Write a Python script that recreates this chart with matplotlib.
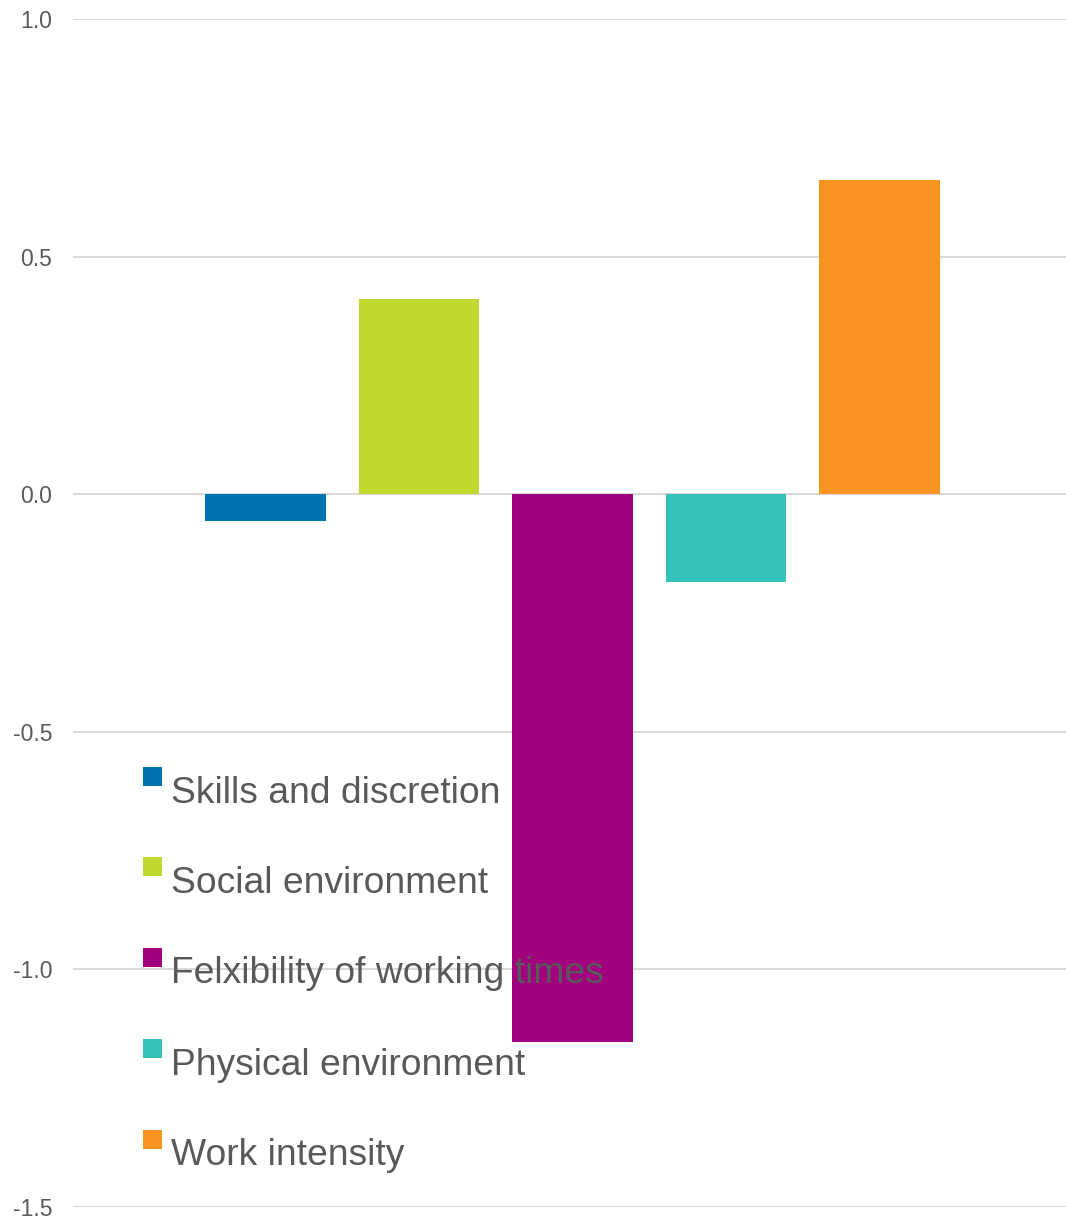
import matplotlib
matplotlib.use("Agg")
import matplotlib.pyplot as plt
from matplotlib.patches import Rectangle

plt.rcParams['font.family'] = ['Liberation Sans', 'DejaVu Sans']

categories = ["Skills and discretion", "Social environment", "Felxibility of working times",
              "Physical environment", "Work intensity"]
values = [-0.056, 0.41, -1.152, -0.184, 0.662]
colors = ["#0072B0", "#C1D82F", "#A3007F", "#34C1B9", "#F7941F"]
yticks = [-1.5, -1.0, -0.5, 0.0, 0.5, 1.0]
ytick_labels = ["-1.5", "-1.0", "-0.5", "0.0", "0.5", "1.0"]

W, H = 1066, 1218
fig = plt.figure(figsize=(W / 100, H / 100), dpi=100)
ax = fig.add_axes([73 / W, (H - 1207) / H, (1066 - 73) / W, (1207 - 19) / H])

x = list(range(len(values)))
ax.bar(x, values, width=0.788, color=colors, zorder=2)

ax.set_xlim(-1.254, 5.215)
ax.set_ylim(-1.5, 1.0)
ax.set_yticks(yticks)
ax.set_yticklabels(ytick_labels)
ax.set_xticks([])
ax.grid(axis='y', color='#D9D9D9', linewidth=1.5, zorder=0)
ax.set_axisbelow(True)
for s in ax.spines.values():
    s.set_visible(False)
ax.tick_params(axis='y', length=0, pad=15, labelsize=16.5, labelcolor='#595959')

# Legend drawn as square swatches and labels on top of the bars
sq_tops = [767, 857, 948, 1039, 1130]
baselines = [803, 893, 983, 1075, 1165]
for name, col, top, base in zip(categories, colors, sq_tops, baselines):
    fig.patches.append(Rectangle((143 / W, (H - top - 19) / H), 19 / W, 19 / H,
                                 transform=fig.transFigure, facecolor=col,
                                 edgecolor='none', zorder=5))
    fig.text(171 / W, (H - base) / H, name, fontsize=26.8, color='#595959',
             ha='left', va='baseline', zorder=6)

fig.savefig("out.png", dpi=100, facecolor='white')
